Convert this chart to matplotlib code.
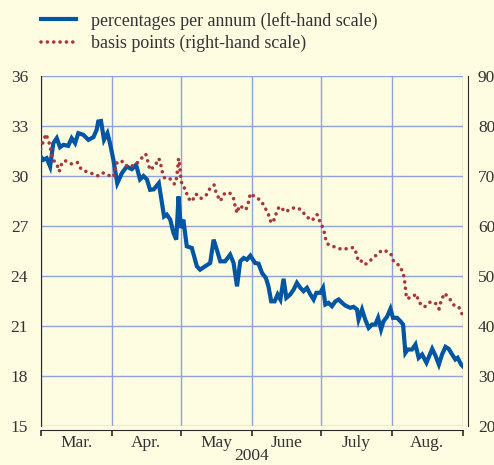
import datetime as dt
import matplotlib
matplotlib.use("Agg")
import matplotlib.pyplot as plt
from matplotlib.lines import Line2D

# Datos (dias desde el 1 de marzo de 2004)
dias_pct = [0, 1.1, 2.6, 4.1, 5.5, 7, 8.4, 9.9, 12, 13.5, 15, 16.4, 18.6, 20.8, 23, 24.4,
            25.1, 26.3, 27.6, 29.1, 30.2, 31.7, 33.4, 35.4, 37.5, 39.7, 41.6, 43.3, 44.8,
            46.3, 47.7, 49.3, 51.5, 53.8, 55, 56.5, 57.9, 59.1, 60.1, 61.1, 62.2, 63.7,
            65.9, 68.1, 69.5, 71.7, 73.9, 75.4, 76.8, 78.3, 80.4, 82.6, 84.1, 85.6, 87,
            88.5, 89.9, 91.4, 93.5, 95, 96.5, 98.2, 99.3, 100.5, 102, 103.3, 104.5, 105.9,
            107.1, 108.8, 110.3, 111.7, 113.2, 114.6, 116.1, 117.6, 119, 120.2, 121.9,
            123.1, 124.1, 125.5, 127, 128.5, 129.9, 131.4, 132.8, 135, 136.4, 137.9, 138.6,
            140.1, 141.5, 143, 144.5, 145.9, 147.1, 148.4, 149.5, 151, 152.5, 153.6, 155.4,
            156.8, 158, 159, 160, 161.9, 163.4, 164.8, 166.3, 168.2, 170.7, 172.1, 173.6,
            175, 176.5, 177.9, 179.4, 180.8, 181.8, 183.3, 184]
pct_anual = [31.17, 30.97, 31.07, 30.57, 31.97, 32.27, 31.73, 31.87, 31.81, 32.27, 31.97,
             32.57, 32.47, 32.17, 32.33, 32.77, 33.27, 33.3, 32.17, 32.57, 31.97, 30.97,
             29.57, 30.17, 30.57, 30.41, 30.67, 29.8, 30.0, 29.8, 29.17, 29.2, 29.57, 27.57,
             27.68, 27.38, 26.58, 26.18, 28.77, 26.88, 27.38, 25.78, 25.68, 24.58, 24.38,
             24.58, 24.78, 26.18, 25.58, 24.88, 24.88, 25.28, 24.78, 23.38, 24.88, 25.08,
             24.98, 25.22, 24.78, 24.74, 24.18, 23.88, 23.38, 22.48, 22.48, 22.89, 22.59,
             23.83, 22.69, 22.89, 23.19, 23.59, 23.29, 23.09, 23.29, 22.89, 22.59, 22.99,
             22.99, 23.29, 22.29, 22.39, 22.19, 22.48, 22.59, 22.39, 22.23, 22.09, 22.15,
             21.99, 21.39, 21.99, 21.39, 20.89, 21.09, 21.09, 21.49, 20.79, 21.29, 21.55,
             22.03, 21.49, 21.49, 21.29, 21.09, 19.39, 19.59, 19.59, 19.89, 19.09, 19.29,
             18.80, 19.63, 19.23, 18.69, 19.29, 19.75, 19.63, 19.29, 18.99, 19.09, 18.69,
             18.59]

dias_pb = [0, 1.1, 2.3, 3.6, 4.4, 5.1, 7.0, 8.1, 8.9, 10.5, 13.5, 16.0, 17.6, 19.8, 21.5,
           23.3, 25.1, 27.3, 29.8, 31.7, 32.6, 33.4, 35.8, 38.0, 41.3, 43.6, 45.8, 46.8,
           47.6, 49.8, 51.5, 52.2, 52.9, 54.0, 56.1, 58.3, 58.9, 59.4, 59.8, 60.1, 60.5,
           60.8, 61.1, 61.8, 63.3, 64.0, 65.9, 67.7, 69.8, 72.2, 73.9, 75.6, 76.5, 78.3,
           80.0, 82.3, 84.1, 84.8, 85.6, 86.7, 89.5, 90.6, 91.4, 93.2, 96.0, 97.9, 99.3,
           100.5, 102.0, 103.0, 104.1, 106.9, 108.8, 111.3, 113.6, 115.8, 118.3, 120.5,
           121.9, 123.4, 124.1, 125.1, 128.2, 131.4, 133.8, 136.4, 137.6, 138.5, 140.1,
           141.5, 143.7, 146.1, 147.7, 149.6, 152.6, 153.9, 156.6, 158.1, 158.7, 159.1,
           159.5, 161.6, 163.8, 164.9, 167.3, 170.0, 172.2, 173.7, 174.6, 176.1, 178.3,
           180.3, 182.3, 183.7]
puntos_base = [75.4, 76.9, 78.4, 76.8, 75.2, 73.4, 72.4, 70.9, 72.2, 73.1, 72.4, 72.7, 71.4,
               70.9, 70.6, 70.4, 70.0, 70.6, 70.1, 69.8, 71.4, 72.9, 72.9, 71.8, 72.2, 73.4,
               74.4, 72.8, 71.2, 72.0, 73.5, 72.7, 71.0, 69.6, 69.6, 68.4, 68.6, 70.2, 71.9,
               73.5, 72.6, 71.0, 69.4, 68.0, 67.3, 65.7, 64.9, 66.4, 65.5, 66.2, 67.6, 68.2,
               66.6, 65.0, 66.4, 66.7, 65.5, 63.9, 62.6, 64.1, 63.25, 64.8, 66.5, 65.9, 65.1,
               63.6, 62.3, 60.6, 61.4, 63.05, 63.9, 62.8, 63.45, 63.7, 63.25, 61.9, 61.1,
               62.3, 60.7, 59.3, 57.6, 56.4, 55.8, 55.3, 55.5, 55.7, 54.6, 52.9, 53.0, 52.3,
               53.1, 54.1, 54.8, 55.2, 54.5, 52.9, 52.0, 50.5, 48.9, 47.2, 45.5, 45.7, 46.4,
               44.75, 43.8, 44.85, 44.5, 43.4, 45.1, 46.55, 45.45, 44.1, 43.8, 42.4]

meses = ["Mar.", "Apr.", "May", "June", "July", "Aug."]

inicio = dt.date(2004, 3, 1)
limites = [(dt.date(2004, m, 1) - inicio).days for m in range(3, 10)]
centros = [(a + b) / 2 for a, b in zip(limites[:-1], limites[1:])]

fondo = "#fefce1"
azul = "#0056a2"
rojo = "#a8373a"
rejilla = "#8fa2da"
oscuro = "#2a2a2a"
texto = "#333333"
punteado = (0, (0.01, 1.75))

plt.rcParams["font.family"] = ["Liberation Serif", "DejaVu Serif"]
plt.rcParams["font.size"] = 12.5

fig = plt.figure(figsize=(4.94, 4.65), dpi=100, facecolor=fondo)
ax = fig.add_axes([40.7 / 494, 1 - 426 / 465, 422 / 494, 350 / 465])
ax.set_facecolor(fondo)

ax.plot(dias_pct, pct_anual, color=azul, lw=3.0, solid_joinstyle="miter", zorder=4)

ax2 = ax.twinx()
ax2.plot(dias_pb, puntos_base, color=rojo, lw=2.6, linestyle=punteado,
         dash_capstyle="round", zorder=3)

ax.set_xlim(limites[0], limites[-1])
ax.set_ylim(15, 36)
ax2.set_ylim(20, 90)
ax.set_yticks(range(15, 37, 3))
ax2.set_yticks(range(20, 91, 10))

# Rejilla
for x in limites:
    ax.axvline(x, color=rejilla, lw=1.0, zorder=1)
for y in range(15, 37, 3):
    ax.axhline(y, color=rejilla, lw=1.0, zorder=1)

# Ejes
for a in (ax, ax2):
    a.spines["top"].set_visible(False)
ax.spines["left"].set_color(oscuro)
ax2.spines["left"].set_visible(False)
ax.spines["right"].set_visible(False)
ax2.spines["bottom"].set_visible(False)
ax2.spines["right"].set_color(oscuro)
ax2.spines["right"].set_position(("outward", 4))
ax.spines["bottom"].set_color(oscuro)
ax.spines["bottom"].set_position(("outward", 3))

ax.tick_params(axis="y", length=0, pad=9, labelsize=12.5, colors=texto)
ax2.tick_params(axis="y", length=0, pad=7, labelsize=12.5, colors=texto)

ax.set_xticks(limites)
ax.set_xticklabels([])
ax.tick_params(axis="x", which="major", direction="out", length=4, width=1.2, color=oscuro)
ax.set_xticks(centros, minor=True)
ax.set_xticklabels(meses, minor=True)
ax.tick_params(axis="x", which="minor", length=0, pad=3.5, labelsize=12.5, colors=texto)

fig.text(252 / 494, 1 - 456 / 465, "2004", ha="center", va="center", fontsize=12.5,
         color=texto)

# Leyenda
manejadores = [
    Line2D([], [], color=azul, lw=3.0),
    Line2D([], [], color=rojo, lw=2.6, linestyle=punteado, dash_capstyle="round"),
]
etiquetas = ["percentages per annum (left-hand scale)", "basis points (right-hand scale)"]
fig.legend(manejadores, etiquetas, loc="upper left", bbox_to_anchor=(29 / 494, 1.0),
           frameon=False, fontsize=12.9, handlelength=2.0, handletextpad=0.8,
           labelspacing=0.3, labelcolor=texto, borderaxespad=0.25)

fig.savefig("out.png", dpi=100, facecolor=fondo)
